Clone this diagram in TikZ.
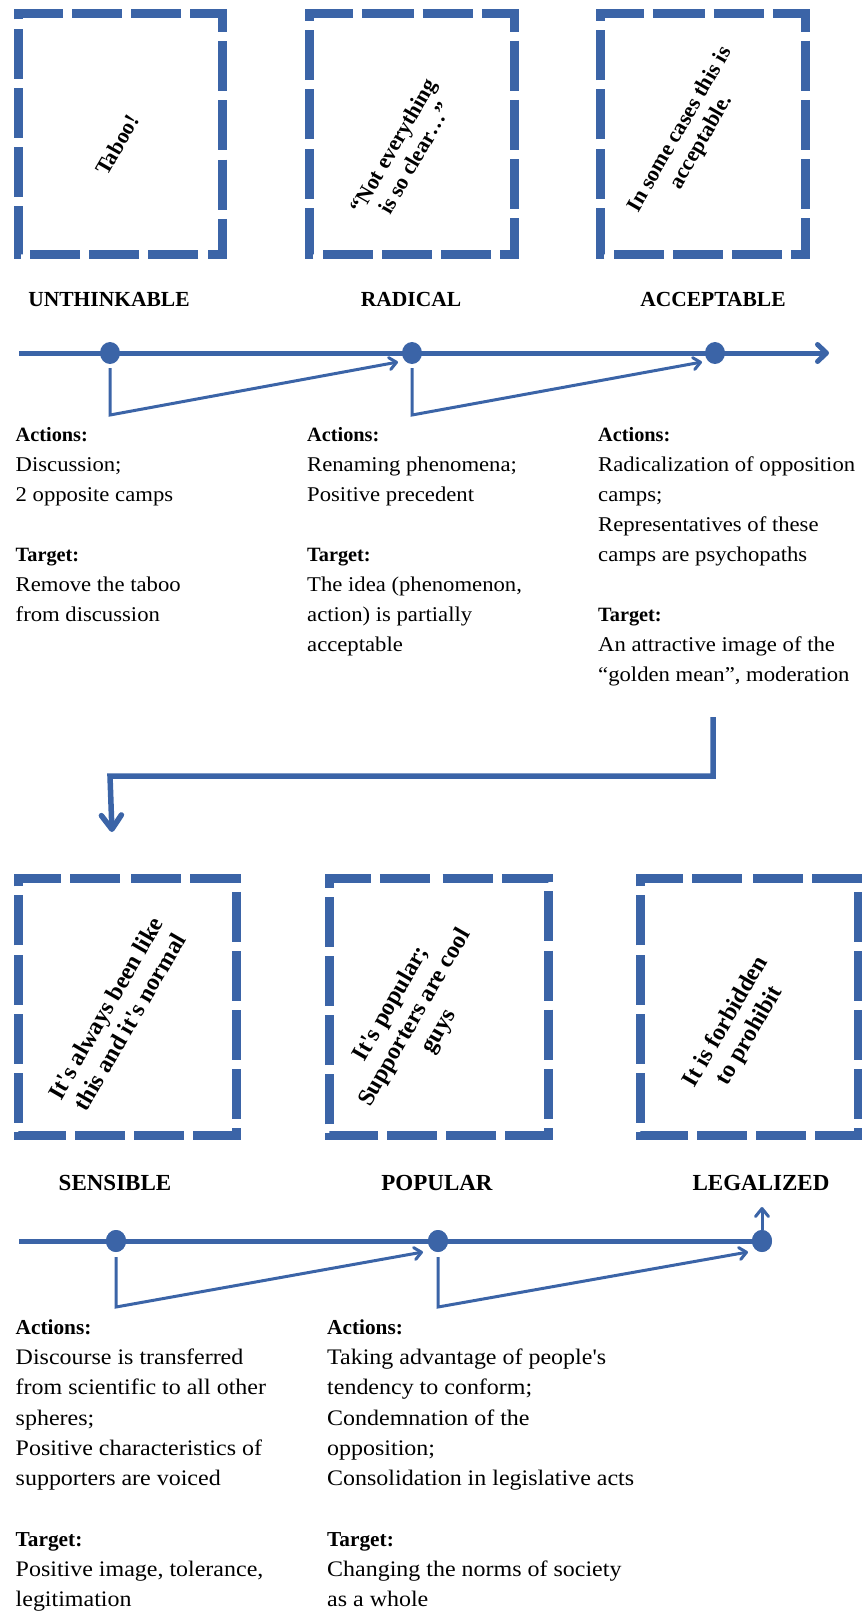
\documentclass[tikz,border=0pt]{standalone}
\usepackage{fontspec}
\setmainfont{Liberation Serif}[Ligatures=TeXOff]
\newfontfamily\bodyfont{Liberation Serif}[Ligatures=TeXOff,FakeStretch=1.08]
\usetikzlibrary{arrows.meta,shapes.geometric}
\definecolor{pblue}{RGB}{59,100,167}
\newcommand\hdA{\normalfont\bfseries\fontsize{20.3}{30}\selectfont}
\newcommand\hdB{\normalfont\bfseries\fontsize{21.3}{30.5}\selectfont}
\newcommand\dashframe[2]{\draw[#2] (#1.north) -- (#1.north east) -- (#1.south east) -- (#1.south west) -- (#1.north west) -- cycle;}
\tikzset{
  boxn/.style={draw=none, inner sep=0pt},
  dboxtop/.style={draw=pblue, line width=9pt, line cap=butt, line join=miter, dash pattern=on 50pt off 9.2pt, dash phase=48.5pt},
  dboxbot/.style={draw=pblue, line width=9pt, line cap=butt, line join=miter, dash pattern=on 50pt off 9.125pt, dash phase=55.5pt},
  boxtxt/.style={font=\bfseries\fontsize{22}{25}\selectfont, align=center, rotate=60, inner sep=0pt},
  boxtxtb/.style={font=\bfseries\fontsize{24}{27.5}\selectfont, align=center, rotate=60, inner sep=0pt},
  stage/.style={font=\bfseries\fontsize{21.5}{26}\selectfont, anchor=base, inner sep=0pt},
  stageb/.style={font=\bfseries\fontsize{23}{28}\selectfont, anchor=base, inner sep=0pt},
  dotn/.style={ellipse, fill=pblue, draw=none, minimum width=20pt, minimum height=22pt, inner sep=0pt},
  tline/.style={draw=pblue, line width=5pt},
  jump/.style={draw=pblue, line width=3pt, line join=miter, -{Straight Barb[length=7pt,width=12pt,round]}},
  conn/.style={draw=pblue, line width=5.5pt, line join=miter, -{Straight Barb[length=14pt,width=20pt,round]}},
  bodyA/.style={anchor=north west, inner sep=0pt, align=left, font=\bodyfont\fontsize{21}{30}\selectfont},
  bodyB/.style={anchor=north west, inner sep=0pt, align=left, font=\bodyfont\fontsize{22.2}{30.3}\selectfont},
}
\begin{document}
\begin{tikzpicture}[x=1pt,y=-1pt]
\useasboundingbox (0,0) rectangle (862,1623);

% ---------- top boxes ----------
\node[boxn, minimum width=203pt, minimum height=240pt] (b1) at (120.5,134) {};
\node[boxn, minimum width=204pt, minimum height=240pt] (b2) at (412,134) {};
\node[boxn, minimum width=204pt, minimum height=240pt] (b3) at (703,134) {};
\dashframe{b1}{dboxtop}
\dashframe{b2}{dboxtop}
\dashframe{b3}{dboxtop}
\node[boxtxt] (q1) at (117,145) {Taboo!};
\node[boxtxt] (q2) at (404,152) {“Not everything\\is so clear…”};
\node[boxtxt] (q3) at (691,136) {In some cases this is\\acceptable.};

\node[stage] (l1) at (109,306) {UNTHINKABLE};
\node[stage] (l2) at (411,306) {RADICAL};
\node[stage] (l3) at (713,306) {ACCEPTABLE};

% ---------- top timeline ----------
\coordinate (ts) at (19,353);
\coordinate (te) at (829,353);
\draw[tline, -{Straight Barb[length=9pt,width=17pt,round]}] (ts) -- (te);
\node[dotn] (d1) at (110,353) {};
\node[dotn] (d2) at (412,353) {};
\node[dotn] (d3) at (715,353) {};
\coordinate (k1) at (110,415);
\coordinate (t1) at (398,362);
\coordinate (k2) at (412,415);
\coordinate (t2) at (702,362);
\draw[jump] ([yshift=-4pt]d1.south) -- (k1) -- (t1);
\draw[jump] ([yshift=-4pt]d2.south) -- (k2) -- (t2);

% ---------- top texts ----------
\node[bodyA] (a1) at (15.5,421) {\rule{0pt}{20pt}{\hdA Actions:}\\Discussion;\\2 opposite camps\\[30pt]{\hdA Target:}\\Remove the taboo\\from discussion};
\node[bodyA] (a2) at (307,421) {\rule{0pt}{20pt}{\hdA Actions:}\\Renaming phenomena;\\Positive precedent\\[30pt]{\hdA Target:}\\The idea (phenomenon,\\action) is partially\\acceptable};
\node[bodyA] (a3) at (598,421) {\rule{0pt}{20pt}{\hdA Actions:}\\Radicalization of opposition\\camps;\\Representatives of these\\camps are psychopaths\\[30pt]{\hdA Target:}\\An attractive image of the\\“golden mean”, moderation};

% ---------- connector between rows ----------
\coordinate (c1) at (713,717);
\coordinate (c2) at (713,776);
\coordinate (c3) at (110,776);
\coordinate (c4) at (112,832);
\draw[conn] (c1) -- (c2) -- (c3) -- (c4);

% ---------- bottom boxes ----------
\node[boxn, minimum width=217pt, minimum height=256pt] (b4) at (127.5,1007) {};
\node[boxn, minimum width=218pt, minimum height=256pt] (b5) at (439,1007) {};
\node[boxn, minimum width=217pt, minimum height=256pt] (b6) at (749.5,1007) {};
\dashframe{b4}{dboxbot}
\dashframe{b5}{dboxbot}
\dashframe{b6}{dboxbot}
\node[boxtxtb] (q4) at (117.5,1015) {It's always been like\\this and it's normal};
\node[boxtxtb] (q5) at (415.5,1018) {It's popular;\\Supporters are cool\\guys};
\node[boxtxtb] (q6) at (738,1029) {It is forbidden\\to prohibit};

\node[stageb] (l4) at (115,1190) {SENSIBLE};
\node[stageb] (l5) at (437,1190) {POPULAR};
\node[stageb] (l6) at (761,1190) {LEGALIZED};

% ---------- bottom timeline ----------
\coordinate (us) at (19,1241);
\node[dotn] (e1) at (116,1241) {};
\node[dotn] (e2) at (438,1241) {};
\node[dotn] (e3) at (762,1241) {};
\draw[tline] (us) -- (e3.center);
\node[dotn] at (e1) {};
\node[dotn] at (e2) {};
\node[dotn] at (e3) {};
\coordinate (up) at (762,1207);
\draw[draw=pblue, line width=3pt, -{Straight Barb[length=8pt,width=13pt,round]}] (e3.north) -- (up);
\coordinate (k3) at (116,1307);
\coordinate (t3) at (423,1252);
\coordinate (k4) at (438,1307);
\coordinate (t4) at (748,1252);
\draw[jump] ([yshift=-5pt]e1.south) -- (k3) -- (t3);
\draw[jump] ([yshift=-5pt]e2.south) -- (k4) -- (t4);

% ---------- bottom texts ----------
\node[bodyB] (a4) at (15.5,1314) {\rule{0pt}{20pt}{\hdB Actions:}\\Discourse is transferred\\from scientific to all other\\spheres;\\Positive characteristics of\\supporters are voiced\\[30.3pt]{\hdB Target:}\\Positive image, tolerance,\\legitimation};
\node[bodyB] (a5) at (327,1314) {\rule{0pt}{20pt}{\hdB Actions:}\\Taking advantage of people's\\tendency to conform;\\Condemnation of the\\opposition;\\Consolidation in legislative acts\\[30.3pt]{\hdB Target:}\\Changing the norms of society\\as a whole};
\end{tikzpicture}
\end{document}
